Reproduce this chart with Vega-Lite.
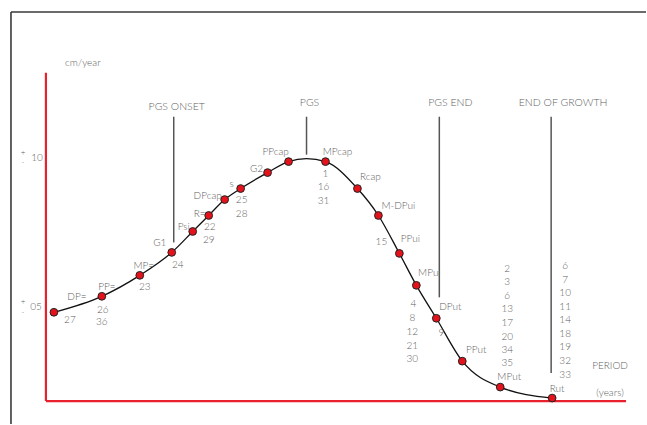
{
  "$schema": "https://vega.github.io/schema/vega-lite/v6.json",
  "width": 647,
  "height": 425,
  "padding": 0,
  "autosize": {"type": "fit", "contains": "padding"},
  "background": "white",
  "config": {"view": {"stroke": null}, "text": {"font": "Lato", "fontWeight": 300, "fill": "#5f5f5f"}},
  "datasets": {
    "frame": [
      {"x": -3.5, "x2": 60.1, "y": 14.867, "y2": 14.867},
      {"x": -3.5, "x2": -3.5, "y": 14.867, "y2": 1.1}
    ],
    "axes": [
      {"x": 0, "x2": 0, "y": 12.833, "y2": 1.867},
      {"x": 0, "x2": 58.1, "y": 1.867, "y2": 1.867}
    ],
    "milestones": [
      {"name": "PGS ONSET", "x": 12.8, "x2": 12.8, "y": 11.367, "y2": 7.167, "lx": 13.1, "ly": 11.7},
      {"name": "PGS", "x": 26.1, "x2": 26.1, "y": 11.367, "y2": 10.1, "lx": 26.4, "ly": 11.833},
      {"name": "PGS END", "x": 39.4, "x2": 39.4, "y": 11.367, "y2": 5.333, "lx": 40.5, "ly": 11.833},
      {"name": "END OF GROWTH", "x": 50.6, "x2": 50.6, "y": 11.367, "y2": 2.8, "lx": 51.8, "ly": 11.833}
    ],
    "curve": [
      {"stage": "DP=", "x": 0.8, "y": 4.833, "marker": true, "lx": 3.1, "ly": 5.333},
      {"stage": "PP=", "x": 5.6, "y": 5.367, "marker": true, "lx": 6.1, "ly": 5.667},
      {"stage": "MP=", "x": 9.4, "y": 6.067, "marker": true, "lx": 9.8, "ly": 6.367},
      {"stage": "G1", "x": 12.6, "y": 6.833, "marker": true, "lx": 11.4, "ly": 7.133},
      {"stage": "Psi", "x": 14.7, "y": 7.533, "marker": true, "lx": 13.8, "ly": 7.667},
      {"stage": "R=", "x": 16.3, "y": 8.067, "marker": true, "lx": 15.4, "ly": 8.1},
      {"stage": "DPcap", "x": 17.9, "y": 8.6, "marker": true, "lx": 16.2, "ly": 8.733},
      {"stage": "s", "x": 19.5, "y": 8.967, "marker": true, "lx": 18.6, "ly": 9.133},
      {"stage": "G2", "x": 22.2, "y": 9.5, "marker": true, "lx": 21.1, "ly": 9.633},
      {"stage": "PPcap", "x": 24.3, "y": 9.867, "marker": true, "lx": 23.0, "ly": 10.2},
      {"stage": "", "x": 26.1, "y": 9.967, "marker": false, "lx": 26.1, "ly": 9.967},
      {"stage": "MPcap", "x": 28.0, "y": 9.867, "marker": true, "lx": 29.2, "ly": 10.2},
      {"stage": "Rcap", "x": 31.2, "y": 8.967, "marker": true, "lx": 32.5, "ly": 9.367},
      {"stage": "M-DPui", "x": 33.3, "y": 8.067, "marker": true, "lx": 35.3, "ly": 8.4},
      {"stage": "PPui", "x": 35.4, "y": 6.8, "marker": true, "lx": 36.5, "ly": 7.267},
      {"stage": "MPui", "x": 37.1, "y": 5.733, "marker": true, "lx": 38.4, "ly": 6.133},
      {"stage": "DPut", "x": 39.1, "y": 4.633, "marker": true, "lx": 40.5, "ly": 5.0},
      {"stage": "PPut", "x": 41.7, "y": 3.2, "marker": true, "lx": 43.1, "ly": 3.567},
      {"stage": "MPut", "x": 45.5, "y": 2.333, "marker": true, "lx": 46.4, "ly": 2.667},
      {"stage": "Rut", "x": 50.7, "y": 1.967, "marker": true, "lx": 51.2, "ly": 2.267}
    ],
    "numbers": [
      {"n": "27", "x": 2.4, "y": 4.567},
      {"n": "26", "x": 5.7, "y": 4.9},
      {"n": "36", "x": 5.6, "y": 4.5},
      {"n": "23", "x": 9.9, "y": 5.667},
      {"n": "24", "x": 13.2, "y": 6.4},
      {"n": "29", "x": 16.3, "y": 7.233},
      {"n": "22", "x": 16.4, "y": 7.667},
      {"n": "25", "x": 19.6, "y": 8.6},
      {"n": "28", "x": 19.6, "y": 8.1},
      {"n": "1", "x": 28.0, "y": 9.467},
      {"n": "16", "x": 27.8, "y": 9.033},
      {"n": "31", "x": 27.8, "y": 8.567},
      {"n": "15", "x": 33.6, "y": 7.167},
      {"n": "4", "x": 36.8, "y": 5.1},
      {"n": "8", "x": 36.7, "y": 4.633},
      {"n": "12", "x": 36.7, "y": 4.167},
      {"n": "21", "x": 36.7, "y": 3.7},
      {"n": "30", "x": 36.7, "y": 3.267},
      {"n": "9", "x": 39.6, "y": 4.133},
      {"n": "2", "x": 46.2, "y": 6.267},
      {"n": "3", "x": 46.2, "y": 5.833},
      {"n": "6", "x": 46.2, "y": 5.367},
      {"n": "13", "x": 46.2, "y": 4.933},
      {"n": "17", "x": 46.2, "y": 4.467},
      {"n": "20", "x": 46.2, "y": 4.0},
      {"n": "34", "x": 46.2, "y": 3.567},
      {"n": "35", "x": 46.2, "y": 3.133},
      {"n": "6", "x": 52.0, "y": 6.367},
      {"n": "7", "x": 52.0, "y": 5.9},
      {"n": "10", "x": 52.0, "y": 5.467},
      {"n": "11", "x": 52.0, "y": 5.0},
      {"n": "14", "x": 52.0, "y": 4.567},
      {"n": "18", "x": 52.0, "y": 4.1},
      {"n": "19", "x": 52.0, "y": 3.667},
      {"n": "32", "x": 52.0, "y": 3.2},
      {"n": "33", "x": 52.0, "y": 2.733}
    ],
    "misc": [
      {"t": "cm/year", "x": 3.7, "y": 13.167},
      {"t": "PERIOD", "x": 56.5, "y": 3.033},
      {"t": "(years)", "x": 56.5, "y": 2.133},
      {"t": "10", "x": -0.9, "y": 10},
      {"t": "05", "x": -1.0, "y": 5}
    ],
    "pm": [
      {"t": "+", "x": -2.3, "y": 10.167},
      {"t": "-", "x": -2.3, "y": 9.833},
      {"t": "+", "x": -2.3, "y": 5.167},
      {"t": "-", "x": -2.3, "y": 4.8}
    ]
  },
  "encoding": {
    "x": {"field": "x", "type": "quantitative", "scale": {"domain": [-4.6, 60.1], "nice": false, "zero": false}, "axis": null},
    "y": {"field": "y", "type": "quantitative", "scale": {"domain": [1.1, 15.267], "nice": false, "zero": false}, "axis": null}
  },
  "layer": [
    {
      "data": {"name": "frame"},
      "mark": {"type": "rule", "color": "#3a3a3a", "strokeWidth": 1.6},
      "encoding": {"x2": {"field": "x2"}, "y2": {"field": "y2"}}
    },
    {
      "data": {"name": "axes"},
      "mark": {"type": "rule", "color": "#e8212e", "strokeWidth": 2.2},
      "encoding": {"x2": {"field": "x2"}, "y2": {"field": "y2"}}
    },
    {
      "data": {"name": "milestones"},
      "mark": {"type": "rule", "color": "#555555", "strokeWidth": 1.5},
      "encoding": {"x2": {"field": "x2"}, "y2": {"field": "y2"}}
    },
    {
      "data": {"name": "milestones"},
      "mark": {"type": "text", "fontSize": 10.5, "align": "center", "baseline": "middle", "fill": "#5f5f5f", "font": "Lato", "fontWeight": 300},
      "encoding": {"x": {"field": "lx", "type": "quantitative"}, "y": {"field": "ly", "type": "quantitative"}, "text": {"field": "name"}}
    },
    {
      "data": {"name": "curve"},
      "mark": {"type": "line", "interpolate": "monotone", "color": "#111111", "strokeWidth": 1.3},
      "encoding": {}
    },
    {
      "data": {"name": "curve"},
      "transform": [{"filter": "datum.marker"}],
      "mark": {"type": "point", "filled": true, "size": 60, "fill": "#e3121b", "stroke": "#222222", "strokeWidth": 1, "opacity": 1, "fillOpacity": 1},
      "encoding": {}
    },
    {
      "data": {"name": "curve"},
      "transform": [{"filter": "datum.marker"}],
      "mark": {"type": "text", "fontSize": 10, "align": "center", "baseline": "middle", "fill": "#5f5f5f", "font": "Lato", "fontWeight": 300},
      "encoding": {"x": {"field": "lx", "type": "quantitative"}, "y": {"field": "ly", "type": "quantitative"}, "text": {"field": "stage"}}
    },
    {
      "data": {"name": "numbers"},
      "mark": {"type": "text", "fontSize": 10, "align": "center", "baseline": "middle", "fill": "#5f5f5f", "font": "Lato", "fontWeight": 300},
      "encoding": {"text": {"field": "n"}}
    },
    {
      "data": {"name": "misc"},
      "mark": {"type": "text", "fontSize": 10, "align": "center", "baseline": "middle", "fill": "#5f5f5f", "font": "Lato", "fontWeight": 300},
      "encoding": {"text": {"field": "t"}}
    },
    {
      "data": {"name": "pm"},
      "mark": {"type": "text", "fontSize": 8, "align": "center", "baseline": "middle", "fill": "#5f5f5f", "font": "Lato", "fontWeight": 300},
      "encoding": {"text": {"field": "t"}}
    }
  ]
}
